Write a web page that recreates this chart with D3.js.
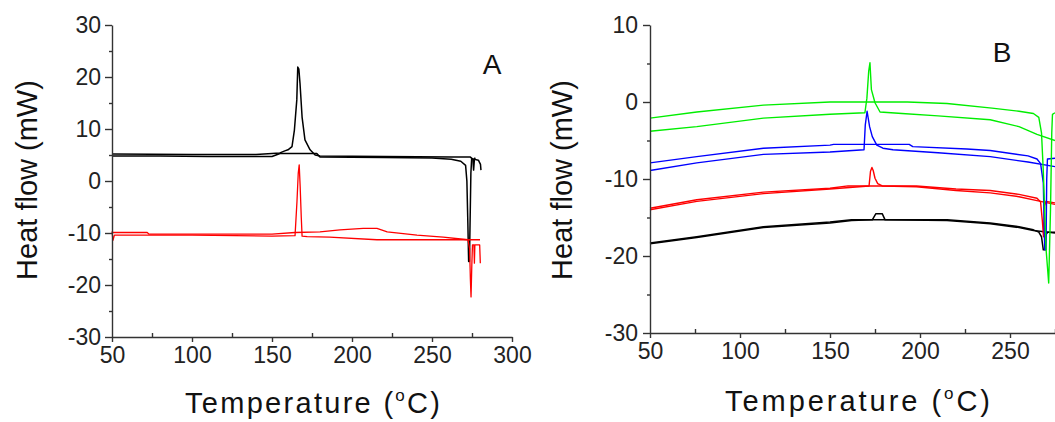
<!DOCTYPE html>
<html>
<head>
<meta charset="utf-8">
<script src="https://cdn.jsdelivr.net/npm/d3@7"></script>
<style>
body { margin: 0; background: #fff; }
svg { display: block; font-family: Arial, "Liberation Sans", sans-serif; }
</style>
</head>
<body>
<svg id="chart" width="1055" height="422"></svg>
<script>
// ---- Panel A data: [temperature (°C), heat flow (mW)] ----
const blackA_heat = [[50,4.8],[80,4.8],[110,4.7],[150,4.7],[155,5.3],[178,5.3],[180,4.6],[220,4.5],[250,4.4],[262,4.2],[268,3.8],[271,3],[271.8,0],[272.4,-8],[272.9,-15.5],[273.4,-15.5],[273.9,-6],[274.3,1.5],[274.8,4.3],[279,4.0],[280.3,3.2],[280.6,2.1]];
const blackA_cool = [[50,5.2],[100,5.1],[140,5.1],[155,5.4],[158,5.8],[160,6.0],[162.5,6.6],[164,9.8],[165.5,15.6],[166.1,21.9],[166.8,21.5],[167.5,18.8],[168.8,12.3],[170.6,7.9],[173.8,6.0],[177,5.0],[180,4.8],[220,4.7],[262,4.6],[274,4.6],[275.5,4.2],[276,2.1],[276.5,4.2],[277,4.5]];
const redA_heat = [[50,-9.9],[72,-9.9],[73,-10.2],[150,-10.2],[164.4,-9.9],[180,-9.8],[192.5,-9.4],[207,-9.1],[215.6,-9.1],[222,-9.8],[240.6,-10.4],[257,-10.8],[269.5,-11.2],[272.5,-11.3],[273.5,-13],[274,-19],[274.4,-22.3],[274.9,-16],[275.3,-12.3],[276.2,-12.3],[276.5,-15.8],[276.8,-12.3],[279.8,-12.3],[280.2,-15.8]];
const redA_cool = [[50,-9.7],[50.6,-11.4],[51.5,-10.4],[100,-10.4],[150,-10.6],[164.4,-10.5],[165.6,-4],[166.4,1.5],[167,3.1],[167.6,-1],[168.3,-7],[168.8,-10.6],[172,-10.7],[186,-10.8],[215.6,-11.3],[270,-11.3],[280,-11.3]];

// ---- Panel B data ----
const greenB_heat = [[50,-2.1],[76,-1.3],[113,-0.4],[150,0.0],[193,0.0],[215,-0.2],[240,-0.8],[255,-1.2],[263,-1.5],[266,-2.0],[267.5,-4],[268.5,-9],[270,-19],[271.5,-23.5],[272.5,-14],[273.2,-4],[273.6,-1.6],[275,-1.4]];
const greenB_cool = [[50,-3.8],[76,-3.2],[113,-2.1],[150,-1.6],[169.4,-1.4],[170.5,0.5],[171.5,4],[172.2,5.1],[173,1.6],[175,-0.1],[177.8,-1.3],[190,-1.5],[210,-1.8],[239,-2.3],[255,-3.2],[265,-4.2],[275,-5.0]];
const blueB_heat = [[50,-7.9],[76,-7.1],[113,-6.0],[150,-5.6],[152,-5.5],[194,-5.5],[196,-5.8],[226,-6.1],[239,-6.3],[260,-7.0],[265,-7.4],[267,-8.0],[268.5,-10.5],[269.3,-19.2],[270,-19.2],[270.4,-10],[270.8,-7.4],[275,-7.3]];
const blueB_cool = [[50,-8.9],[76,-7.9],[113,-6.8],[150,-6.5],[168.9,-6.2],[169.6,-3],[170.6,-1.2],[172,-3.2],[173.5,-4.5],[176,-5.6],[179.4,-6.0],[185,-6.2],[210,-6.6],[239,-7.1],[260,-7.8],[275,-8.4]];
const redB_heat = [[50,-13.8],[76,-12.7],[113,-11.7],[150,-11.2],[160,-10.9],[198,-10.9],[220,-11.3],[239,-11.5],[255,-12.0],[265,-12.5],[267,-13.0],[268,-15.5],[268.6,-17.5],[269.2,-13.5],[270,-12.9],[275,-13.1]];
const redB_cool = [[50,-14.0],[76,-12.9],[113,-11.9],[150,-11.3],[171.7,-10.9],[172.5,-9],[173.3,-8.5],[174,-8.9],[175,-9.9],[176.5,-10.6],[179,-10.9],[198,-11.0],[220,-11.5],[239,-11.8],[255,-12.3],[265,-12.8],[275,-13.3]];
const blackB_heat = [[50,-18.3],[76,-17.5],[113,-16.2],[150,-15.6],[162,-15.3],[215,-15.3],[239,-15.7],[255,-16.2],[263,-16.6],[266,-16.9],[267.5,-17.5],[268.5,-19.2],[269.5,-19.2],[270,-17.2],[271,-16.9],[275,-16.9]];
const blackB_cool = [[50,-18.4],[76,-17.6],[113,-16.3],[150,-15.7],[162,-15.4],[173.5,-15.3],[175.5,-14.5],[179,-14.5],[180.6,-15.3],[215,-15.4],[239,-15.8],[255,-16.3],[263,-16.7],[275,-17.0]];

// tick values
const xTicksA = [50,100,150,200,250,300];
const xMinorA = [75,125,175,225,275];
const yTicksA = [-30,-20,-10,0,10,20,30];
const yMinorA = [-25,-15,-5,5,15,25];
const xTicksB = [50,100,150,200,250];
const xMinorB = [75,125,175,225,275];
const yTicksB = [-30,-20,-10,0,10];
const yMinorB = [-25,-15,-5,5];

const svg = d3.select("#chart");

function drawPanel(p) {
    const x = d3.scaleLinear().domain(p.xDomain).range(p.xRange);
    const y = d3.scaleLinear().domain(p.yDomain).range(p.yRange);
    const g = svg.append("g");

    const line = d3.line()
        .x(d => x(d[0]))
        .y(d => y(d[1]));

    // curves
    p.series.forEach(s => {
        g.append("path")
            .datum(s.data)
            .attr("fill", "none")
            .attr("stroke", s.color)
            .attr("stroke-width", s.width)
            .attr("stroke-linejoin", "round")
            .attr("d", line);
    });

    // minor ticks
    g.append("g")
        .attr("transform", `translate(0,${p.yRange[0]})`)
        .call(d3.axisBottom(x).tickValues(p.xMinor).tickSize(-4).tickFormat(""))
        .call(a => a.select(".domain").remove());
    g.append("g")
        .attr("transform", `translate(${p.xRange[0]},0)`)
        .call(d3.axisLeft(y).tickValues(p.yMinor).tickSize(3).tickFormat(""))
        .call(a => a.select(".domain").remove());

    // major axes (plain hyphen for negatives, as in the original)
    const fmt = d => String(d);
    const xAxis = g.append("g")
        .attr("transform", `translate(0,${p.yRange[0]})`)
        .call(d3.axisBottom(x).tickValues(p.xTicks).tickFormat(fmt).tickSize(5).tickPadding(5).tickSizeOuter(0));
    const yAxis = g.append("g")
        .attr("transform", `translate(${p.xRange[0]},0)`)
        .call(d3.axisLeft(y).tickValues(p.yTicks).tickFormat(fmt).tickSize(7).tickPadding(p.yPad).tickSizeOuter(0));

    g.selectAll(".tick line, .domain")
        .attr("stroke", "#333")
        .attr("stroke-width", 1.4);
    [xAxis, yAxis].forEach(a => a.selectAll("text")
        .attr("font-size", 23)
        .attr("font-family", "Arial, 'Liberation Sans', sans-serif")
        .attr("fill", "#222"));

    // axis titles
    g.append("text")
        .attr("transform", `translate(${p.yTitleX},180) rotate(-90)`)
        .attr("text-anchor", "middle")
        .attr("font-size", 29)
        .attr("fill", "#111")
        .text("Heat flow (mW)");

    const t = g.append("text")
        .attr("x", p.xTitle[0])
        .attr("y", p.xTitle[1])
        .attr("font-size", 29)
        .attr("fill", "#111")
        .attr("textLength", p.xTitle[2])
        .attr("lengthAdjust", "spacing");
    t.append("tspan").text("Temperature (");
    t.append("tspan").attr("font-size", 17).attr("dy", -12).text("o");
    t.append("tspan").attr("dy", 12).text("C)");

    g.append("text")
        .attr("x", p.letter[0])
        .attr("y", p.letter[1])
        .attr("text-anchor", "middle")
        .attr("font-size", 28)
        .attr("fill", "#111")
        .text(p.letter[2]);
}

drawPanel({
    xDomain: [50, 300], xRange: [112, 512],
    yDomain: [-30, 30], yRange: [337, 25],
    xTicks: xTicksA, xMinor: xMinorA, yTicks: yTicksA, yMinor: yMinorA,
    yPad: 4, yTitleX: 37, xTitle: [185, 413, 255], letter: [492, 74, "A"],
    series: [
        { data: blackA_heat, color: "#000", width: 1.5 },
        { data: blackA_cool, color: "#000", width: 1.5 },
        { data: redA_heat, color: "#ff0000", width: 1.3 },
        { data: redA_cool, color: "#ff0000", width: 1.3 }
    ]
});

drawPanel({
    xDomain: [50, 275], xRange: [650, 1055],
    yDomain: [-30, 10], yRange: [333, 25],
    xTicks: xTicksB, xMinor: xMinorB, yTicks: yTicksB, yMinor: yMinorB,
    yPad: 5, yTitleX: 572, xTitle: [725, 411, 265], letter: [1002, 62, "B"],
    series: [
        { data: blackB_heat, color: "#000", width: 1.5 },
        { data: blackB_cool, color: "#000", width: 1.5 },
        { data: redB_heat, color: "#ff0000", width: 1.4 },
        { data: redB_cool, color: "#ff0000", width: 1.4 },
        { data: blueB_heat, color: "#0000ff", width: 1.4 },
        { data: blueB_cool, color: "#0000ff", width: 1.4 },
        { data: greenB_heat, color: "#00ee00", width: 1.4 },
        { data: greenB_cool, color: "#00ee00", width: 1.4 }
    ]
});
</script>
</body>
</html>
